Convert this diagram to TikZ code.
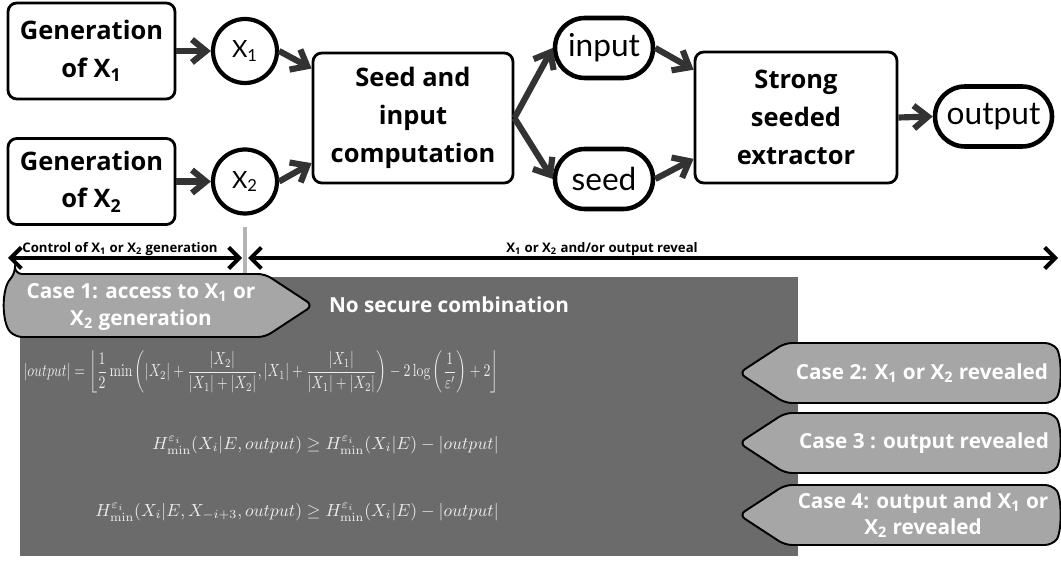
\documentclass[tikz,border=0pt]{standalone}
\usepackage[no-math]{fontspec}
\setmainfont{Open Sans}
\newfontfamily\labelfont{Lato}
\usetikzlibrary{positioning,arrows.meta,shapes.misc}

\definecolor{arrowgray}{HTML}{333333}
\definecolor{panelgray}{HTML}{6B6B6B}
\definecolor{casegray}{HTML}{A6A6A6}
\definecolor{tickgray}{HTML}{B4B4B4}
\definecolor{mathwhite}{HTML}{EDEDED}

\tikzset{
  block/.style={draw, line width=1.6pt, rounded corners=5pt, align=center,
    inner sep=0pt, font=\fontsize{14.5}{21.5}\selectfont\bfseries},
  varnode/.style={draw, circle, line width=2.4pt, minimum size=1.28cm,
    inner sep=0pt, font=\labelfont\fontsize{13.5}{16}\selectfont},
  pill/.style={draw, rounded rectangle, line width=2.6pt, minimum height=1.2cm,
    inner sep=0pt, font=\labelfont\fontsize{18}{20}\selectfont},
  flow/.style={draw=arrowgray, line width=3.5pt,
    -{Straight Barb[length=8pt,width=13pt]}},
  span/.style={draw=black, line width=2.3pt,
    {Straight Barb[length=6pt,width=12pt]}-{Straight Barb[length=6pt,width=12pt]}},
  spanlabel/.style={inner sep=0pt, font=\fontsize{7.5}{9}\selectfont\bfseries},
  casebox/.style={draw=black, fill=casegray, line width=1.1pt, rounded corners=4pt},
  casetext/.style={text=white, align=center, inner sep=0pt,
    font=\fontsize{11.8}{15}\selectfont\bfseries},
  formula/.style={text=mathwhite, anchor=east, inner sep=0pt},
}

\begin{document}
\begin{tikzpicture}
  \useasboundingbox (0,0) rectangle (21.22,11.2);

  % upper chain
  \node[block, minimum width=3.34cm, minimum height=1.92cm] (gen1) at (1.83,10.18) {Generation\\of X\textsubscript{1}};
  \node[block, minimum width=3.34cm, minimum height=1.72cm] (gen2) at (1.83,7.57) {Generation\\of X\textsubscript{2}};
  \node[varnode] (x1) at (4.9,10.18) {X\textsubscript{1}};
  \node[varnode] (x2) at (4.9,7.57) {X\textsubscript{2}};
  \node[block, minimum width=4cm, minimum height=2.6cm] (seedcomp) at (8.26,8.84) {Seed and\\input\\computation};
  \node[pill, minimum width=1.96cm] (input) at (12.08,10.24) {input};
  \node[pill, minimum width=1.96cm] (seed) at (12.08,7.62) {seed};
  \node[block, minimum width=4.04cm, minimum height=2.62cm] (extractor) at (15.92,8.85) {Strong\\seeded\\extractor};
  \node[pill, minimum width=2.34cm] (output) at (19.87,8.87) {output};

  \draw[flow] (gen1.east) -- (x1.west);
  \draw[flow] (gen2.east) -- (x2.west);
  \draw[flow] (x1.east) -- (seedcomp.154);
  \draw[flow] (x2.east) -- (seedcomp.204);
  \draw[flow] (seedcomp.east) -- (input.west);
  \draw[flow] (seedcomp.east) -- (seed.west);
  \draw[flow] (input.east) -- (extractor.155);
  \draw[flow] (seed.east) -- (extractor.202);
  \draw[flow] (extractor.east) -- (output.west);

  % time line
  \coordinate (tickT) at (4.9,6.66);
  \coordinate (tickB) at (4.9,5.74);
  \draw[tickgray, line width=2.2pt] (tickT) -- (tickB);
  \coordinate (ctrlL) at (0.16,6.04);
  \coordinate (ctrlR) at (4.84,6.04);
  \coordinate (revL) at (4.96,6.04);
  \coordinate (revR) at (21.16,6.04);
  \draw[span] (ctrlL) -- (ctrlR);
  \draw[span] (revL) -- (revR);
  \node[spanlabel] (ctrllabel) at (2.4,6.22) {Control of X\textsubscript{1} or X\textsubscript{2} generation};
  \node[spanlabel] (reveallabel) at (12.04,6.22) {X\textsubscript{1} or X\textsubscript{2} and/or output reveal};

  % panel
  \fill[panelgray] (0.4,0.08) rectangle (15.96,5.66);
  \draw[casebox] (0.3,5.72) -- (5.3,5.72) -- (6.26,5.09) -- (5.3,4.46) -- (0.3,4.46)
    .. controls (0.03,4.75) and (0.03,5.43) .. (0.3,5.72) -- cycle;
  \node[casetext] (case1) at (2.82,5.06) {Case 1: access to X\textsubscript{1} or\\X\textsubscript{2} generation};
  \node[casetext] (nosecure) at (8.98,5.1) {No secure combination};

  \draw[casebox] (15.7,4.34) -- (21.04,4.34) .. controls (21.24,4.1) and (21.24,3.38) .. (21.04,3.14)
    -- (15.7,3.14) -- (14.78,3.74) -- cycle;
  \draw[casebox] (15.7,2.94) -- (21.04,2.94) .. controls (21.24,2.7) and (21.24,1.98) .. (21.04,1.74)
    -- (15.7,1.74) -- (14.78,2.34) -- cycle;
  \draw[casebox] (15.7,1.5) -- (21.04,1.5) .. controls (21.24,1.26) and (21.24,0.54) .. (21.04,0.3)
    -- (15.7,0.3) -- (14.78,0.9) -- cycle;
  \node[casetext] (case2) at (18.44,3.74) {Case 2: X\textsubscript{1} or X\textsubscript{2} revealed};
  \node[casetext] (case3) at (18.48,2.34) {Case 3 : output revealed};
  \node[casetext] (case4) at (18.46,0.9) {Case 4: output and X\textsubscript{1} or\\X\textsubscript{2} revealed};

  % bounds
  \node[formula] (eqlen) at (9.98,3.76) {\resizebox{9.5cm}{\height}{$\displaystyle |output| = \left\lfloor \frac{1}{2}\min\left(|X_2| + \frac{|X_2|}{|X_1|+|X_2|}, |X_1| + \frac{|X_1|}{|X_1|+|X_2|}\right) - 2\log\left(\frac{1}{\varepsilon'}\right) + 2\right\rfloor$}};
  \node[formula] (eqcase3) at (9.98,2.3) {$H^{\varepsilon_i}_{\min}(X_i|E, output) \geq H^{\varepsilon_i}_{\min}(X_i|E) - |output|$};
  \node[formula] (eqcase4) at (9.98,0.96) {$H^{\varepsilon_i}_{\min}(X_i|E, X_{-i+3}, output) \geq H^{\varepsilon_i}_{\min}(X_i|E) - |output|$};
\end{tikzpicture}
\end{document}
